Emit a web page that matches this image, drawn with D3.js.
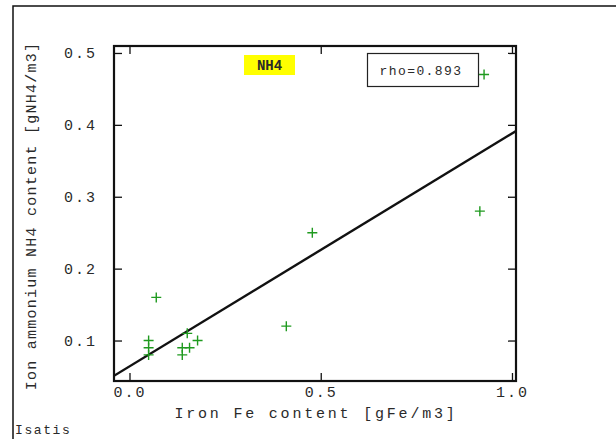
<!DOCTYPE html>
<html><head><meta charset="utf-8">
<script src="https://cdn.jsdelivr.net/npm/d3@7"></script>
<style>
body{margin:0;background:#fff;}
svg text{font-family:"Liberation Mono","Courier New",monospace;fill:#2a2a2a;}
</style></head>
<body><svg id="c" width="616" height="439"></svg>
<script>
// Data
const feValues  = [0.07, 0.05, 0.05, 0.05, 0.151, 0.178, 0.138, 0.157, 0.138, 0.41, 0.478, 0.927, 0.916];
const nh4Values = [0.16, 0.10, 0.09, 0.08, 0.11, 0.10, 0.09, 0.09, 0.08, 0.12, 0.25, 0.47, 0.28];
const xTicks = [0.0, 0.5, 1.0];
const xTickLabels = ["0.0", "0.5", "1.0"];
const yTicks = [0.1, 0.2, 0.3, 0.4, 0.5];
const yTickLabels = ["0.1", "0.2", "0.3", "0.4", "0.5"];
const regression = [0.064, 0.324]; // intercept, slope
const rhoText = "rho=0.893";
const titleText = "NH4";
const xTitle = "Iron Fe content [gFe/m3]";
const yTitle = "Ion ammonium NH4 content [gNH4/m3]";

const svg = d3.select("#c");
const L = 114, R = 516, T = 46, B = 381;
const x = d3.scaleLinear().domain([-0.0405, 1.0105]).range([L, R]);
const y = d3.scaleLinear().domain([0.0437, 0.5097]).range([B, T]);

// outer frame
svg.append("path").attr("d", `M13,439 L13,6 L616,6`).attr("fill","none").attr("stroke","#111").attr("stroke-width",1.5);

// plot frame
svg.append("rect").attr("x",L).attr("y",T).attr("width",R-L).attr("height",B-T)
  .attr("fill","none").attr("stroke","#111").attr("stroke-width",2.2);

function styleAxis(g){
  g.select(".domain").remove();
  g.selectAll(".tick line").attr("stroke","#111").attr("stroke-width",1.3);
}
const fmtX = d => xTickLabels[xTicks.indexOf(d)];
const fmtY = d => yTickLabels[yTicks.indexOf(d)];

const gb = svg.append("g").attr("transform",`translate(0,${B})`)
  .call(d3.axisBottom(x).tickValues(xTicks).tickFormat(fmtX).tickSizeInner(-8).tickSizeOuter(0).tickPadding(5));
styleAxis(gb);
gb.selectAll("text").style("font-size","15px").style("letter-spacing","2px").attr("fill","#2a2a2a").attr("font-family",null);

const gt = svg.append("g").attr("transform",`translate(0,${T})`)
  .call(d3.axisTop(x).tickValues(xTicks).tickFormat("").tickSizeInner(-8).tickSizeOuter(0));
styleAxis(gt);

const gl = svg.append("g").attr("transform",`translate(${L},0)`)
  .call(d3.axisLeft(y).tickValues(yTicks).tickFormat(fmtY).tickSizeInner(-8).tickSizeOuter(0).tickPadding(17));
styleAxis(gl);
gl.selectAll("text").style("font-size","15px").style("letter-spacing","2px").attr("fill","#2a2a2a").attr("font-family",null);

const gr = svg.append("g").attr("transform",`translate(${R},0)`)
  .call(d3.axisRight(y).tickValues(yTicks).tickFormat("").tickSizeInner(-8).tickSizeOuter(0));
styleAxis(gr);

// regression line
svg.append("clipPath").attr("id","clip").append("rect").attr("x",L).attr("y",T).attr("width",R-L).attr("height",B-T);
const xd = x.domain();
const line = d3.line().x(d=>x(d)).y(d=>y(regression[0]+regression[1]*d));
svg.append("path").datum(xd).attr("d",line).attr("clip-path","url(#clip)")
  .attr("fill","none").attr("stroke","#111").attr("stroke-width",2.4);

// points
svg.append("g").selectAll("path").data(feValues.map((v,i)=>[v,nh4Values[i]])).join("path")
  .attr("d", d=>{const px=x(d[0]), py=y(d[1]); return `M${px-5},${py}H${px+5}M${px},${py-5}V${py+5}`;})
  .attr("stroke","#1f9a1f").attr("stroke-width",1.4).attr("fill","none");

// title NH4
svg.append("rect").attr("x",244).attr("y",55).attr("width",51).attr("height",20).attr("fill","#ffff00");
svg.append("text").attr("x",269.5).attr("y",70).attr("text-anchor","middle")
  .style("font-size","14px").style("font-weight","bold").text(titleText);

// rho box
svg.append("rect").attr("x",367.5).attr("y",53.5).attr("width",111).attr("height",33)
  .attr("fill","#fff").attr("stroke","#222").attr("stroke-width",1.2);
svg.append("text").attr("x",421).attr("y",74.5).attr("text-anchor","middle")
  .style("font-size","13px").style("letter-spacing","1.4px").text(rhoText);

// axis titles
svg.append("text").attr("x",316).attr("y",418).attr("text-anchor","middle")
  .style("font-size","15px").style("letter-spacing","2.8px").text(xTitle);
svg.append("text").attr("transform","translate(36,216) rotate(-90)").attr("text-anchor","middle")
  .style("font-size","15px").style("letter-spacing","1.25px").text(yTitle);

svg.append("text").attr("x",15).attr("y",434).style("font-size","13px").style("letter-spacing","1.6px").text("Isatis");
</script></body></html>
